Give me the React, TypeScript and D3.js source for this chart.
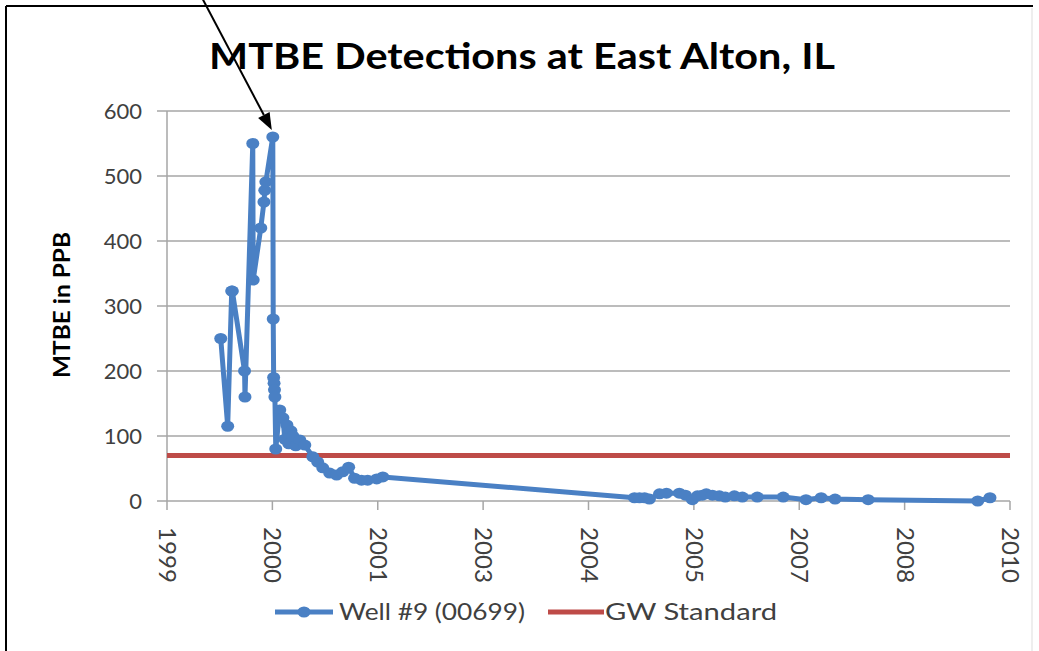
import React from "react";
import * as d3 from "d3";

// ---- Data ----
const wellDates: string[] = [
  "1999-10-14", "1999-11-16", "1999-12-05", "1999-12-08", "2000-02-04", "2000-02-06",
  "2000-03-14", "2000-03-16", "2000-04-21", "2000-05-06", "2000-05-10", "2000-05-15",
  "2000-06-17", "2000-06-19", "2000-06-21", "2000-06-23", "2000-06-25", "2000-06-27",
  "2000-07-01", "2000-07-20", "2000-08-04", "2000-08-13", "2000-08-23", "2000-09-01",
  "2000-09-11", "2000-09-20", "2000-10-04", "2000-10-23", "2000-11-16", "2000-12-24",
  "2001-01-16", "2001-02-09", "2001-03-14", "2001-04-16", "2001-05-15", "2001-06-12",
  "2001-07-10", "2001-08-12", "2001-09-10", "2001-10-23", "2001-11-21",
  "2005-02-27", "2005-03-23", "2005-04-16", "2005-05-09", "2005-06-26", "2005-07-29",
  "2005-09-28", "2005-10-27", "2005-11-29", "2005-12-23", "2006-01-15", "2006-02-03",
  "2006-03-04", "2006-04-06", "2006-05-04", "2006-06-16", "2006-07-24", "2006-10-03",
  "2007-02-03", "2007-05-22", "2007-08-02", "2007-10-07", "2008-03-12", "2009-08-14",
  "2009-10-11",
];
const wellValues: number[] = [
  250, 115, 323, 323, 200, 160,
  550, 340, 420, 460, 478, 491,
  560, 280, 190, 181, 171, 160,
  80, 140, 128, 95, 117, 88,
  108, 100, 85, 94, 86, 68,
  60, 51, 43, 40, 45, 52,
  35, 32, 32, 34, 37,
  5, 5, 5, 3, 11, 12,
  12, 9, 2, 8, 9, 11,
  9, 8, 6, 8, 6, 6,
  6, 2, 5, 3, 2, 0,
  5,
];
const gwStandard = 70;
const yTicks: number[] = [0, 100, 200, 300, 400, 500, 600];
const axisStart = "1999-02-01";
const tickStepDays = 500;
const tickCount = 9;

const title = "MTBE Detections at East Alton, IL";
const yTitle = "MTBE in PPB";
const seriesName = "Well #9 (00699)";
const standardName = "GW Standard";

const BLUE = "#4a80c4";
const RED = "#be4b48";
const GRID = "#a6a6a6";
const TEXT = "#404040";
const FONT = "Lato, 'Open Sans', sans-serif";

export default function App() {
  const parse = d3.timeParse("%Y-%m-%d");
  const start = parse(axisStart) as Date;
  const tickDates = d3.range(tickCount).map((k) => d3.timeDay.offset(start, k * tickStepDays));
  const end = tickDates[tickDates.length - 1];

  const left = 167, right = 1010, top = 111, bottom = 501;
  const x = d3.scaleTime().domain([start, end]).range([left, right]);
  const y = d3.scaleLinear().domain([0, 600]).range([bottom, top]);

  const pts = wellDates.map((d, i) => ({ date: parse(d) as Date, v: wellValues[i] }));
  const line = d3
    .line<{ date: Date; v: number }>()
    .x((d) => x(d.date))
    .y((d) => y(d.v));

  const fmt = d3.timeFormat("%Y");

  // annotation arrow pointing to maximum
  const maxPt = pts.reduce((a, b) => (b.v > a.v ? b : a));
  const tipX = x(maxPt.date) - 1;
  const tipY = y(maxPt.v) - 7;
  const startX = 200, startY = -6;
  const ang = Math.atan2(tipY - startY, tipX - startX);
  const ahL = 17, ahW = 6.5;
  const bx = tipX - ahL * Math.cos(ang), by = tipY - ahL * Math.sin(ang);
  const px = -Math.sin(ang) * ahW, py = Math.cos(ang) * ahW;

  return (
    <svg
      width={1039}
      height={651}
      style={{ position: "absolute", left: 0, top: 0, background: "#fff" }}
      fontFamily={FONT}
    >
      <rect x={0} y={0} width={1039} height={651} fill="#fff" />
      {/* frame */}
      <line x1={6} y1={6} x2={1033} y2={6} stroke="#000" strokeWidth={2} />
      <line x1={6} y1={6} x2={6} y2={651} stroke="#000" strokeWidth={2} />
      <line x1={1032} y1={8} x2={1032} y2={651} stroke="#e8e8e8" strokeWidth={1.5} />

      {/* title */}
      <text
        x={522}
        y={69}
        textAnchor="middle"
        fontSize={37}
        fontWeight="bold"
        fill="#000"
        textLength={626}
        lengthAdjust="spacingAndGlyphs"
      >
        {title}
      </text>

      {/* gridlines */}
      {yTicks.map((t) => (
        <g key={t}>
          {t > 0 && <line x1={left} x2={right} y1={y(t)} y2={y(t)} stroke={GRID} strokeWidth={1.5} />}
          <line x1={left - 10} x2={left} y1={y(t)} y2={y(t)} stroke={GRID} strokeWidth={1.5} />
          <text x={142} y={y(t) + 8} textAnchor="end" fontSize={22} fill={TEXT}>
            {t}
          </text>
        </g>
      ))}
      {/* axes */}
      <line x1={left} x2={left} y1={top} y2={bottom} stroke={GRID} strokeWidth={1.5} />
      <line x1={left} x2={right} y1={bottom} y2={bottom} stroke={GRID} strokeWidth={1.5} />
      {tickDates.map((d, i) => (
        <g key={i}>
          <line x1={x(d)} x2={x(d)} y1={bottom} y2={bottom + 9} stroke={GRID} strokeWidth={1.5} />
          <text
            transform={`translate(${x(d) - 8},${bottom + 26}) rotate(90)`}
            fontSize={23}
            fill={TEXT}
            textLength={56}
            lengthAdjust="spacingAndGlyphs"
          >
            {fmt(d)}
          </text>
        </g>
      ))}

      {/* y title */}
      <text
        transform={`translate(70,305) rotate(-90)`}
        textAnchor="middle"
        fontSize={22}
        fontWeight="bold"
        fill="#000"
        textLength={146}
        lengthAdjust="spacingAndGlyphs"
      >
        {yTitle}
      </text>

      {/* GW standard */}
      <line x1={left} x2={right} y1={y(gwStandard)} y2={y(gwStandard)} stroke={RED} strokeWidth={5} />

      {/* series */}
      <path d={line(pts) || ""} fill="none" stroke={BLUE} strokeWidth={5} strokeLinejoin="round" />
      {pts.map((p, i) => (
        <ellipse key={i} cx={x(p.date)} cy={y(p.v)} rx={6.5} ry={5.5} fill={BLUE} />
      ))}

      {/* arrow */}
      <line x1={startX} y1={startY} x2={bx} y2={by} stroke="#000" strokeWidth={2} />
      <polygon
        points={`${tipX},${tipY} ${bx + px},${by + py} ${bx - px},${by - py}`}
        fill="#000"
      />

      {/* legend */}
      <line x1={275} x2={333} y1={612} y2={612} stroke={BLUE} strokeWidth={5} />
      <ellipse cx={304} cy={612} rx={6.5} ry={5.5} fill={BLUE} />
      <text x={339} y={620} fontSize={23} fill={TEXT} textLength={186} lengthAdjust="spacingAndGlyphs">
        {seriesName}
      </text>
      <line x1={548} x2={604} y1={612} y2={612} stroke={RED} strokeWidth={5} />
      <text x={605} y={620} fontSize={23} fill={TEXT} textLength={172} lengthAdjust="spacingAndGlyphs">
        {standardName}
      </text>
    </svg>
  );
}
